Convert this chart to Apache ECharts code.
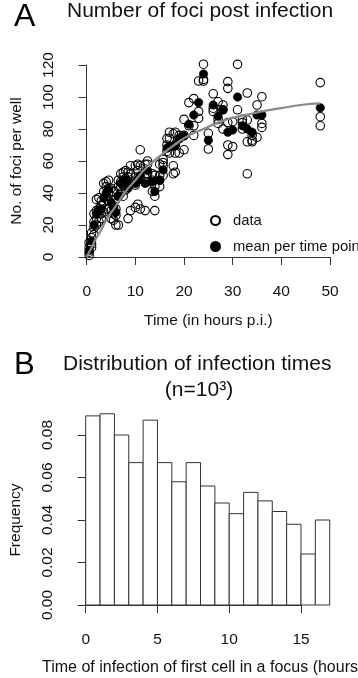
<!DOCTYPE html>
<html><head><meta charset="utf-8">
<script src="https://cdn.jsdelivr.net/npm/echarts@6.0.0/dist/echarts.min.js"></script>
<style>html,body{margin:0;padding:0;background:#fff}#c{width:358px;height:678px}</style>
</head><body><div id="c"></div>
<script>
// ---------- Panel A data ----------
const topXTicks = [0, 10, 20, 30, 40, 50];
const topYTicks = [0, 20, 40, 60, 80, 100, 120];
const fociData = [
[0.5,1],[0.5,3],[0.5,6],[0.5,9],
[1,6],[1,8],[1,12],[1,15],
[1.5,14],[1.5,18],[1.5,22],[1.5,27],
[2,20],[2,24],[2,29],[2,36],
[2.5,22],[2.5,27],[2.5,30],[2.5,37],
[3,24],[3,27],[3,32],[3,35],
[3.5,28],[3.5,34],[3.5,41],[3.5,46],
[4,30],[4,38],[4,44],[4,47],
[4.5,35],[4.5,40],[4.5,43],[4.5,48],
[5,24],[5,29],[5,38],[5,43],
[5.5,23],[5.5,27],[5.5,32],[5.5,41],
[6,20],[6,26],[6,30],[6,36],
[6.5,20],[6.5,38],[6.5,44],[6.5,48],
[7,40],[7,44],[7,47],[7,52],
[7.5,38],[7.5,45],[7.5,50],[7.5,53],
[8,42],[8,46],[8,49],[8,54],
[8.5,24],[8.5,44],[8.5,50],[8.5,53],
[9,29],[9,46],[9,52],[9,57],
[10,31],[10,45],[10,50],[10,57],
[10.5,33],[10.5,48],[10.5,54],[10.5,58],
[11,30],[11,50],[11,57],[11,67],
[12,29],[12,47],[12,50],[12,58],
[12.5,47],[12.5,52],[12.5,58],[12.5,60],
[13.5,41],[13.5,48],[13.5,52],
[14,29],[14,38],[14,44],[14,51],
[15,44],[15,48],[15,51],[15,58],
[15.7,51],[15.7,57],[15.7,59],[15.7,61],
[16.5,66],[16.5,70],[16.5,74],
[17,65],[17,74],[17,78],
[17.8,52],[17.8,57],[17.8,77],
[18.2,53],[18.2,65],[18.2,70],[18.2,78],
[19,65],[19,74],[19,76],
[20,67],[20,76],[20,86],
[21,82],[21,96.5],
[22,76],[22,82],[22,99],
[23,86.7],[23,91],[23,110],
[24,110],[24,111],[24,120.5],
[25,67.5],[25,77.3],
[26,91],[26,93],[26,102],
[27,83.5],[27,86],[27,97],
[28,80],[28,92],[28,95],
[29,64],[29,70],[29,84],[29,105.4],[29,109.6],
[30,69],[30,84.6],
[31,92],[31,120.4],
[32,80],[32,84],[32,86],
[33,52],[33,72],[33,85.6],[33,102.5],
[34,72],[34,73],[34,76],
[35,74.8],[35,95],
[36,81],[36,83.5],[36,100.2],
[48,82],[48,87.7],[48,109]
];
const fociMeans = [
[0.5,4],[1,10],[1.5,20],[2,27],[2.5,29],[3,30],[3.5,37],[4,40],[4.5,42],[5,34],
[5.5,31],[6,28],[6.5,38],[7,46],[7.5,47],[8,48],[8.5,43],[9,46],[10,46],[10.5,48],
[11,51],[12,46],[12.5,54],[13.5,47],[14,41],[15,48],[15.7,54.4],[16.5,68],[17,69],
[17.8,69],[18.2,70],[19,74],[20,75.6],[21,83],[22,88.75],[23,96.5],[24,114.4],[25,73],
[26,95],[27,88],[28,92],[29,78],[30,79.4],[31,100],[32,82],[33,80],[34,78],[35,88.75],
[36,88.75],[48,93.3]
];
const fitCurve = [
[0,0],[1,6],[2,12],[3,17],[4,23],[6,32],[8,41],[10,48],[12,55],[15,63],[18,70],
[21,76],[24,80],[27,84],[30,87],[33,89],[36,91],[40,93],[44,95],[48,96]
];
// ---------- Panel B data ----------
const histXTicks = [0, 5, 10, 15];
const histYTicks = ['0.00', '0.02', '0.04', '0.06', '0.08'];
const histBinStart = [0,1,2,3,4,5,6,7,8,9,10,11,12,13,14,15,16];
const histBinEnd   = [1,2,3,4,5,6,7,8,9,10,11,12,13,14,15,16,17];
const histFreq = [0.089,0.090,0.080,0.067,0.087,0.067,0.058,0.067,0.056,0.048,0.043,0.053,0.049,0.044,0.038,0.024,0.040];

const FONT = "'Liberation Sans', Arial, Helvetica, sans-serif";
const AX = '#333';
const TXT = '#111';
const chart = echarts.init(document.getElementById('c'), null, {renderer: 'canvas'});

function axisCommon() {
  return {
    axisLine: {show: true, lineStyle: {color: AX, width: 1}},
    axisTick: {show: true, length: 8, inside: false, lineStyle: {color: AX, width: 1}},
    splitLine: {show: false},
    nameMoveOverlap: false,
    nameTextStyle: {fontFamily: FONT, fontSize: 15.5, color: TXT}
  };
}
const lbl = (extra) => Object.assign({fontFamily: FONT, fontSize: 15.5, color: TXT, margin: 19}, extra || {});

const option = {
  animation: false,
  backgroundColor: '#fff',
  textStyle: {fontFamily: FONT},
  title: [
    {text: 'A', left: 14, top: 1, padding: 0, textStyle: {fontFamily: FONT, fontSize: 32, fontWeight: 'normal', color: '#000'}},
    {text: 'Number of foci post infection', left: 67, top: 1, padding: 0, textStyle: {fontFamily: FONT, fontSize: 21, fontWeight: 'normal', color: TXT}},
    {text: 'B', left: 14, top: 350, padding: 0, textStyle: {fontFamily: FONT, fontSize: 31, fontWeight: 'normal', color: '#000'}},
    {text: 'Distribution of infection times', left: 63, top: 354, padding: 0, textStyle: {fontFamily: FONT, fontSize: 21, fontWeight: 'normal', color: TXT}},
    {text: '(n=10\u00B3)', left: 199, textAlign: 'center', top: 380, padding: 0, textStyle: {fontFamily: FONT, fontSize: 21, fontWeight: 'normal', color: TXT}},
    {text: 'Time of infection of first cell in a focus (hours)', left: 42, top: 660, padding: 0, textStyle: {fontFamily: FONT, fontSize: 16, fontWeight: 'normal', color: TXT}}
  ],
  legend: {
    orient: 'vertical', left: 210, top: 213, padding: 0,
    itemWidth: 25, itemHeight: 9, itemGap: 11,
    textStyle: {fontFamily: FONT, fontSize: 14.8, color: TXT},
    data: ['data', 'mean per time point']
  },
  grid: [
    {left: 86.7, top: 65, width: 243.3, height: 192, containLabel: false, outerBoundsMode: 'none'},
    {left: 85.7, top: 435, width: 215.3, height: 170, containLabel: false, outerBoundsMode: 'none'}
  ],
  xAxis: [
    Object.assign(axisCommon(), {
      gridIndex: 0, type: 'value', min: topXTicks[0], max: topXTicks[topXTicks.length - 1], interval: 10, offset: 8,
      axisLabel: lbl(),
      name: 'Time (in hours p.i.)', nameLocation: 'middle', nameGap: 48
    }),
    Object.assign(axisCommon(), {
      gridIndex: 1, type: 'value', min: histXTicks[0], max: histXTicks[histXTicks.length - 1], interval: 5, offset: 8,
      axisLabel: lbl()
    })
  ],
  yAxis: [
    Object.assign(axisCommon(), {
      gridIndex: 0, type: 'value', min: topYTicks[0], max: topYTicks[topYTicks.length - 1], interval: 20, offset: 10.7,
      axisLabel: lbl({rotate: 90}),
      name: 'No. of foci per well', nameLocation: 'middle', nameGap: 51, nameRotate: 90
    }),
    Object.assign(axisCommon(), {
      gridIndex: 1, type: 'value', min: 0, max: 0.08, interval: 0.02, offset: 10.7,
      axisLabel: lbl({rotate: 90, formatter: v => histYTicks[Math.round(v / 0.02)]}),
      name: 'Frequency', nameLocation: 'middle', nameGap: 51, nameRotate: 90
    })
  ],
  series: [
    {
      name: 'data', type: 'scatter', xAxisIndex: 0, yAxisIndex: 0, clip: false,
      symbol: 'circle', symbolSize: 8.5,
      itemStyle: {color: 'rgba(255,255,255,0)', borderColor: '#000', borderWidth: 1.1, opacity: 1},
      emphasis: {disabled: true},
      data: fociData, z: 2
    },
    {
      name: 'mean per time point', type: 'scatter', xAxisIndex: 0, yAxisIndex: 0, clip: false,
      symbol: 'circle', symbolSize: 8.5,
      itemStyle: {color: '#000', borderColor: '#000', borderWidth: 0.5, opacity: 1},
      emphasis: {disabled: true},
      data: fociMeans, z: 3
    },
    {
      name: 'fit', type: 'line', xAxisIndex: 0, yAxisIndex: 0, smooth: true, symbol: 'none',
      lineStyle: {color: '#8a8a8a', width: 2.2}, data: fitCurve, z: 4, clip: false
    },
    {
      name: 'hist', type: 'custom', xAxisIndex: 1, yAxisIndex: 1, clip: false,
      data: histFreq.map((f, i) => [histBinStart[i], histBinEnd[i], f]),
      encode: {x: [0, 1], y: 2},
      renderItem: function (params, api) {
        const p0 = api.coord([api.value(0), api.value(2)]);
        const p1 = api.coord([api.value(1), 0]);
        return {
          type: 'rect',
          shape: {x: p0[0], y: p0[1], width: p1[0] - p0[0], height: p1[1] - p0[1]},
          style: {fill: '#fff', stroke: '#333', lineWidth: 1}
        };
      }
    }
  ]
};
chart.setOption(option);
</script>
</body></html>
